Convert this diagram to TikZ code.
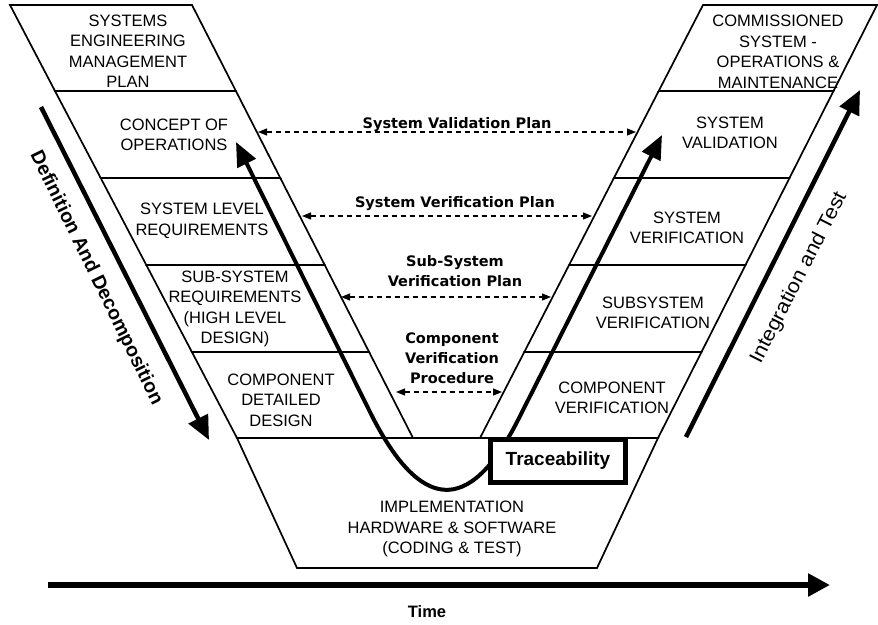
\documentclass[tikz,border=0pt]{standalone}
\usepackage{fontspec}
\setmainfont{Liberation Sans}
\newfontfamily\vfont{DejaVu Sans}
\usetikzlibrary{arrows.meta}
\begin{document}
\begin{tikzpicture}[x=1pt,y=-1pt,
  panel/.style={draw, line width=1.7pt, fill=white, line join=miter},
  ptext/.style={font=\fontsize{16.5}{20.5}\selectfont, align=center, inner sep=0pt},
  mlabel/.style={font=\vfont\bfseries\fontsize{14.5}{20}\selectfont, align=center, inner sep=0pt},
  planarrow/.style={line width=1.2pt, dash pattern=on 5pt off 4pt, {Triangle[length=9pt,width=7pt]}-{Triangle[length=9pt,width=7pt]}},
  bigarrow/.style={line width=4.5pt, -{Triangle[length=24pt,width=21pt]}},
  rottext/.style={inner sep=0pt}
]
\useasboundingbox[fill=white] (0,0) rectangle (878,624);

% left band panels
\draw[panel] (10,5) -- (192,5) -- (235.9,91) -- (55,91) -- cycle;
\draw[panel] (55,91) -- (235.9,91) -- (280.3,178) -- (100.7,178) -- cycle;
\draw[panel] (100.7,178) -- (280.3,178) -- (324.7,265) -- (146.3,265) -- cycle;
\draw[panel] (146.3,265) -- (324.7,265) -- (369.1,352) -- (191.9,352) -- cycle;
\draw[panel] (191.9,352) -- (369.1,352) -- (413,438) -- (237,438) -- cycle;
% right band panels
\draw[panel] (703,5) -- (877,5) -- (833.5,91) -- (658.7,91) -- cycle;
\draw[panel] (658.7,91) -- (833.5,91) -- (789.5,178) -- (613.9,178) -- cycle;
\draw[panel] (613.9,178) -- (789.5,178) -- (745.5,265) -- (569.1,265) -- cycle;
\draw[panel] (569.1,265) -- (745.5,265) -- (701.5,352) -- (524.3,352) -- cycle;
\draw[panel] (524.3,352) -- (701.5,352) -- (658,438) -- (480,438) -- cycle;
% bottom trapezoid
\draw[panel] (237,438) -- (658,438) -- (597,568) -- (297,568) -- cycle;

% panel texts
\node[ptext] (semp) at (128,51) {SYSTEMS\\ENGINEERING\\MANAGEMENT\\PLAN};
\node[ptext] (conops) at (174,135) {CONCEPT OF\\OPERATIONS};
\node[ptext] (sysreq) at (202,221) {SYSTEM LEVEL\\REQUIREMENTS};
\node[ptext] (subreq) at (235,309) {SUB-SYSTEM\\REQUIREMENTS\\(HIGH LEVEL\\DESIGN)};
\node[ptext] (compdd) at (281,400) {COMPONENT\\DETAILED\\DESIGN};
\node[ptext] (comm) at (778,52) {COMMISSIONED\\SYSTEM -\\OPERATIONS \&\\MAINTENANCE};
\node[ptext] (sysval) at (730,133) {SYSTEM\\VALIDATION};
\node[ptext] (sysver) at (687,228) {SYSTEM\\VERIFICATION};
\node[ptext] (subver) at (653,313) {SUBSYSTEM\\VERIFICATION};
\node[ptext] (compver) at (612,398) {COMPONENT\\VERIFICATION};
\node[ptext] (impl) at (452,529) {IMPLEMENTATION\\HARDWARE \& SOFTWARE\\(CODING \& TEST)};

% plan labels and dashed arrows
\node[mlabel, anchor=base] (valplan) at (457,128) {System Validation Plan};
\node[mlabel, anchor=base] (verplan) at (455,207) {System Verification Plan};
\node[mlabel] (subplan) at (455,271) {Sub-System\\Verification Plan};
\node[mlabel] (compproc) at (452,358) {Component\\Verification\\Procedure};

\coordinate (va1) at (258,132);
\coordinate (va2) at (636,132);
\coordinate (vv1) at (302,216);
\coordinate (vv2) at (592,216);
\coordinate (vs1) at (341,297);
\coordinate (vs2) at (551,297);
\coordinate (vc1) at (396,392);
\coordinate (vc2) at (502,392);
\draw[planarrow] (va1) -- (va2);
\draw[planarrow] (vv1) -- (vv2);
\draw[planarrow] (vs1) -- (vs2);
\draw[planarrow] (vc1) -- (vc2);

% big side arrows
\coordinate (defs) at (41,107);
\coordinate (defe) at (209,440);
\draw[bigarrow] (defs) -- (defe);
\node[rottext, rotate=-64, font=\bfseries\fontsize{19.5}{20}\selectfont] (deftext) at (96,278) {Definition And Decomposition};

\coordinate (ints) at (686,437);
\coordinate (inte) at (860,90);
\draw[bigarrow] (ints) -- (inte);
\node[rottext, rotate=63, font=\fontsize{20}{20}\selectfont] (inttext) at (799,278) {\scalebox{1.08}[1]{Integration and Test}};

% time arrow
\coordinate (ts) at (48,585);
\coordinate (te) at (830,585);
\draw[line width=6pt, -{Triangle[length=22pt,width=22pt]}] (ts) -- (te);
\node[font=\bfseries\fontsize{16.5}{18}\selectfont, inner sep=0pt] (time) at (427,612) {Time};

% V traceability curve
\coordinate (vl) at (236,142);
\coordinate (vl2) at (370,412);
\coordinate (vr2) at (518,420);
\coordinate (vr) at (662,135);
\draw[line width=4pt, {Triangle[length=24pt,width=20pt]}-{Triangle[length=24pt,width=20pt]}]
  (vl) -- (vl2) .. controls (419,510.6) and (468.4,518) .. (vr2) -- (vr);

% traceability box
\node[draw, line width=5pt, fill=white, minimum width=135pt, minimum height=43pt, inner sep=0pt,
      font=\bfseries\fontsize{19}{20}\selectfont] (trace) at (558,461) {Traceability};
\end{tikzpicture}
\end{document}
